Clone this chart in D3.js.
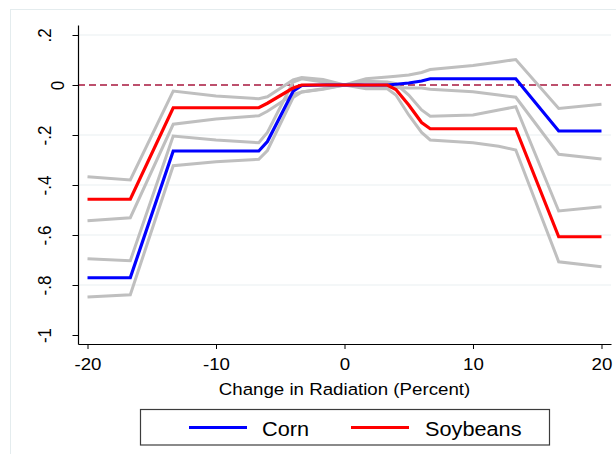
<!DOCTYPE html>
<html>
<head>
<meta charset="utf-8">
<script src="https://cdn.jsdelivr.net/npm/d3@7"></script>
<style>
  body { margin: 0; background: #fff; }
  svg { display: block; }
  text { font-family: "Liberation Sans", Arial, sans-serif; fill: #000; }
</style>
</head>
<body>
<svg id="chart" width="616" height="454"></svg>
<script>
// Change in radiation (percent) at which the yield effects are evaluated
const radiation = [-20, -16.67, -13.33, -10, -6.67, -6, -4, -3.33, -1.67, 0, 1.67, 3.33, 4, 5, 6, 6.67, 10, 12, 13.33, 16.67, 20];

// Point estimates
const corn     = [-0.771, -0.771, -0.264, -0.264, -0.264, -0.226, -0.025, -0.002, 0, 0, 0, 0, 0.003, 0.008, 0.016, 0.025, 0.025, 0.025, 0.025, -0.184, -0.184];
const soybeans = [-0.457, -0.457, -0.091, -0.091, -0.091, -0.073, -0.012, 0, 0, 0, 0, 0, -0.018, -0.080, -0.150, -0.175, -0.175, -0.175, -0.175, -0.607, -0.607];

// Confidence bands
const cornUpper = [-0.695, -0.703, -0.204, -0.220, -0.231, -0.190, 0.012, 0.025, 0.012, 0, 0.025, 0.032, 0.035, 0.040, 0.050, 0.062, 0.078, 0.092, 0.102, -0.094, -0.077];
const cornLower = [-0.848, -0.839, -0.323, -0.307, -0.297, -0.262, -0.050, -0.028, -0.015, 0, -0.005, -0.008, -0.010, -0.012, -0.012, -0.017, -0.027, -0.040, -0.049, -0.277, -0.296];
const soyUpper  = [-0.367, -0.380, -0.024, -0.044, -0.055, -0.047, 0.020, 0.030, 0.022, 0, 0.015, 0.012, 0.005, -0.040, -0.100, -0.125, -0.120, -0.100, -0.087, -0.504, -0.487];
const soyLower  = [-0.543, -0.531, -0.157, -0.136, -0.123, -0.105, -0.038, -0.028, -0.017, 0, -0.015, -0.015, -0.040, -0.120, -0.190, -0.220, -0.231, -0.245, -0.260, -0.707, -0.727];

// Axis ticks and legend entries
const xTickValues = [-20, -10, 0, 10, 20];
const yTickValues = [0.2, 0, -0.2, -0.4, -0.6, -0.8, -1];
const yTickLabels = [".2", "0", "-.2", "-.4", "-.6", "-.8", "-1"];
const legendLabels = ["Corn", "Soybeans"];
const xTitle = "Change in Radiation (Percent)";

// text in this graph is set slightly wide
const stretch = 1.1;

const svg = d3.select("#chart");

const x = d3.scaleLinear().domain([-20.74, 20.74]).range([78, 611]);
const y = d3.scaleLinear().domain([-1.036, 0.24]).range([344, 25]);

// graph region outline
svg.append("rect")
  .attr("x", 10.5).attr("y", 9.5).attr("width", 640).attr("height", 480)
  .attr("fill", "#fff").attr("stroke", "#e4ecee").attr("stroke-width", 1);

// horizontal grid
svg.append("g").selectAll("line")
  .data(yTickValues.filter(v => v !== 0 && v !== -1))
  .join("line")
  .attr("x1", x.range()[0]).attr("x2", x.range()[1])
  .attr("y1", d => y(d)).attr("y2", d => y(d))
  .attr("stroke", "#e9f0f2").attr("stroke-width", 1.2);

// reference line at zero
svg.append("line")
  .attr("x1", x.range()[0]).attr("x2", x.range()[1])
  .attr("y1", y(0)).attr("y2", y(0))
  .attr("stroke", "#a8173e").attr("stroke-width", 1.3)
  .attr("stroke-dasharray", "7,4");

const line = d3.line()
  .x((d, i) => x(radiation[i]))
  .y(d => y(d));

const bands = [cornUpper, cornLower, soyUpper, soyLower];
svg.append("g").selectAll("path")
  .data(bands)
  .join("path")
  .attr("d", line)
  .attr("fill", "none")
  .attr("stroke", "#bfbfbf")
  .attr("stroke-width", 3);

const series = [
  { name: legendLabels[0], values: corn, color: "#0000ff" },
  { name: legendLabels[1], values: soybeans, color: "#ff0000" }
];
svg.append("g").selectAll("path")
  .data(series)
  .join("path")
  .attr("d", d => line(d.values))
  .attr("fill", "none")
  .attr("stroke", d => d.color)
  .attr("stroke-width", 3.2);

// x axis
const xAxis = svg.append("g")
  .attr("transform", `translate(0,${y.range()[0]})`)
  .call(d3.axisBottom(x).tickValues(xTickValues).tickFormat(d => String(d)).tickSize(5).tickSizeOuter(0));
xAxis.select(".domain").attr("stroke", "#000").attr("stroke-width", 1.2);
xAxis.selectAll(".tick line").attr("stroke", "#000");
xAxis.selectAll(".tick text")
  .attr("y", 14)
  .attr("font-size", 17)
  .attr("fill", "#000")
  .attr("transform", `scale(${stretch},1)`);

// y axis
const yAxis = svg.append("g")
  .attr("transform", `translate(${x.range()[0]},0)`)
  .call(d3.axisLeft(y).tickValues(yTickValues).tickFormat((d, i) => yTickLabels[i]).tickSize(5.5).tickSizeOuter(0));
yAxis.select(".domain").attr("stroke", "#000").attr("stroke-width", 1.2);
yAxis.selectAll(".tick line").attr("stroke", "#000");
yAxis.selectAll(".tick text")
  .attr("x", 0).attr("y", 0).attr("dy", 0)
  .attr("text-anchor", "middle")
  .attr("font-size", 17)
  .attr("fill", "#000")
  .attr("transform", d => `translate(${d === 0 ? -14 : -27},0) scale(${stretch},1) rotate(-90)`);

// x axis title
svg.append("text")
  .attr("transform", `translate(${(x.range()[0] + x.range()[1]) / 2},395) scale(${stretch},1)`)
  .attr("text-anchor", "middle")
  .attr("font-size", 17)
  .text(xTitle);

// legend
const legend = svg.append("g");
legend.append("rect")
  .attr("x", 140.5).attr("y", 409.5).attr("width", 409).attr("height", 35.5)
  .attr("fill", "#fff").attr("stroke", "#3c3c3c").attr("stroke-width", 1.2);
const legendX = [[189, 247, 262], [351, 409, 425]];
series.forEach((s, i) => {
  legend.append("line")
    .attr("x1", legendX[i][0]).attr("x2", legendX[i][1])
    .attr("y1", 427.5).attr("y2", 427.5)
    .attr("stroke", s.color).attr("stroke-width", 3.2);
  legend.append("text")
    .attr("transform", `translate(${legendX[i][2]},435.5) scale(1.085,1)`)
    .attr("font-size", 20)
    .text(s.name);
});
</script>
</body>
</html>
